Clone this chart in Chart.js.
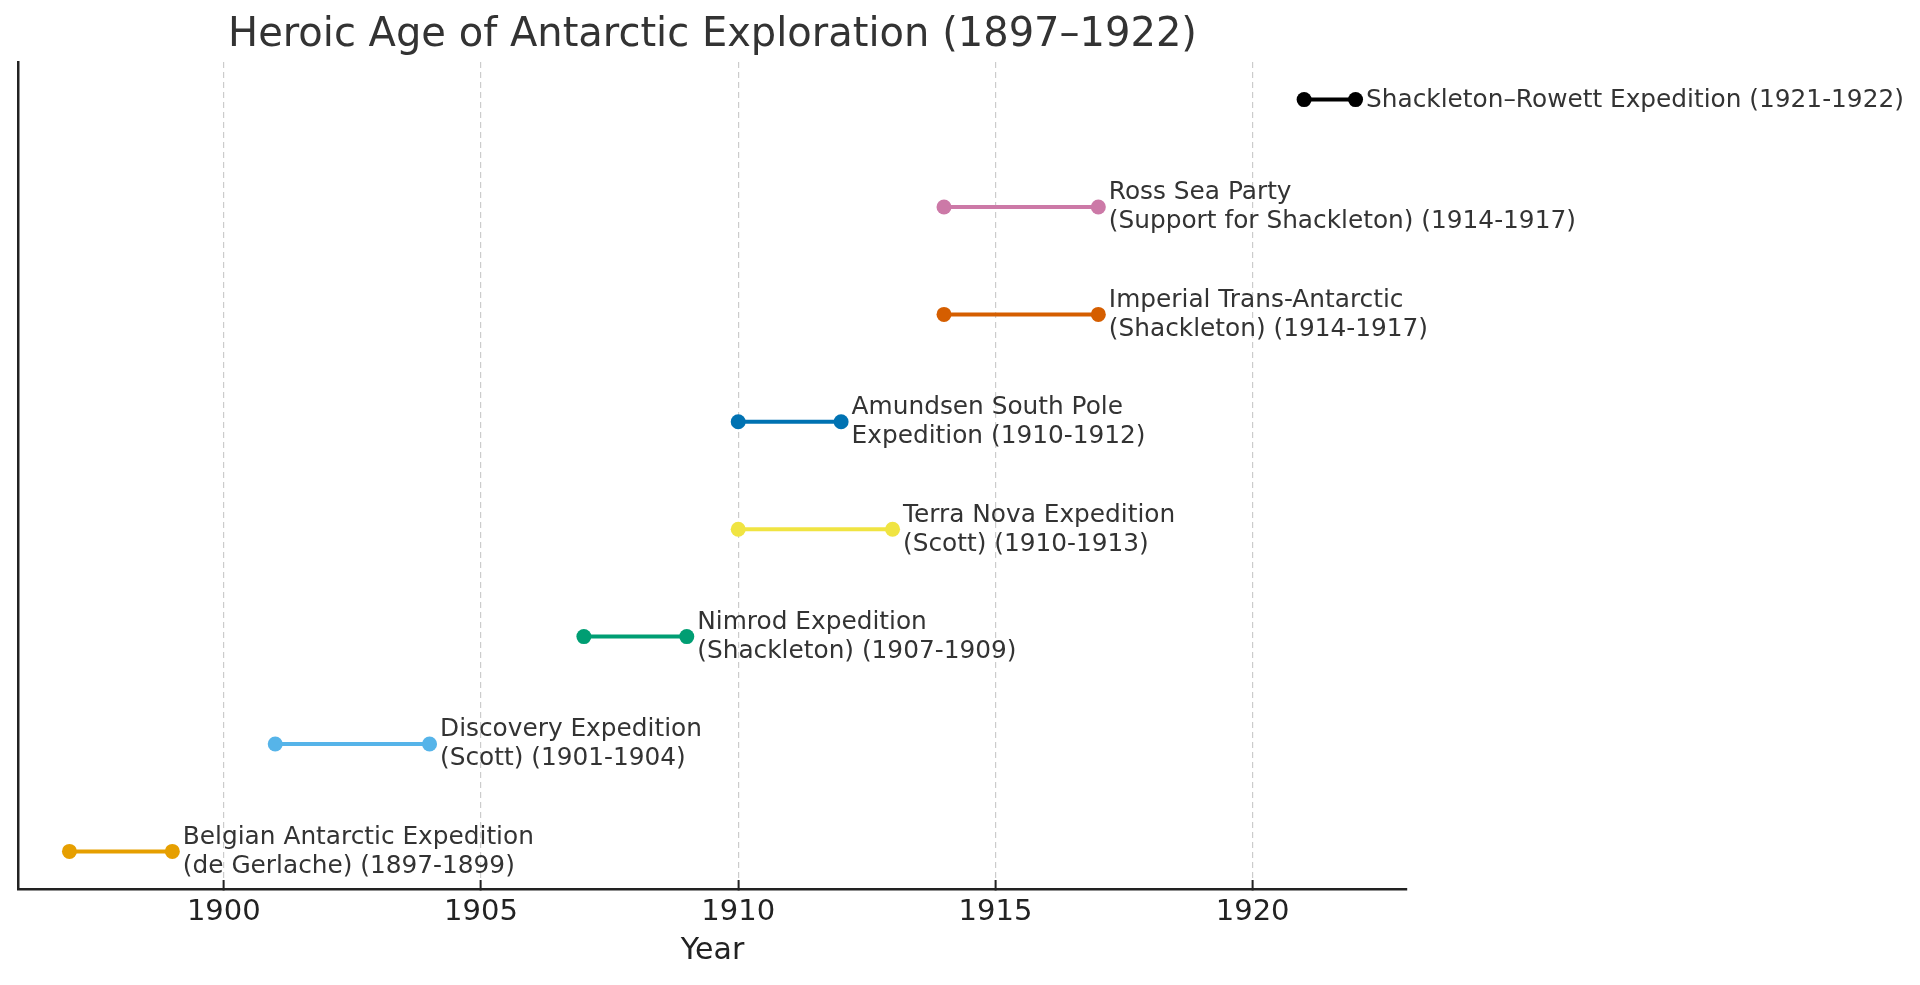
<!DOCTYPE html>
<html>
<head>
<meta charset="utf-8">
<script src="https://cdn.jsdelivr.net/npm/chart.js@4/dist/chart.umd.min.js"></script>
<style>
  html, body { margin: 0; padding: 0; background: #ffffff; }
  #wrap { width: 1920px; height: 985px; position: relative; }
</style>
</head>
<body>
<div id="wrap"><canvas id="c"></canvas></div>
<script>
// ---- data ----
const expeditionLabels = [
  ['Belgian Antarctic Expedition', '(de Gerlache) (1897-1899)'],
  ['Discovery Expedition', '(Scott) (1901-1904)'],
  ['Nimrod Expedition', '(Shackleton) (1907-1909)'],
  ['Terra Nova Expedition', '(Scott) (1910-1913)'],
  ['Amundsen South Pole', 'Expedition (1910-1912)'],
  ['Imperial Trans-Antarctic', '(Shackleton) (1914-1917)'],
  ['Ross Sea Party', '(Support for Shackleton) (1914-1917)'],
  ['Shackleton\u2013Rowett Expedition (1921-1922)']
];
const startYears = [1897, 1901, 1907, 1910, 1910, 1914, 1914, 1921];
const endYears   = [1899, 1904, 1909, 1913, 1912, 1917, 1917, 1922];
const lineColors = ['#E69F00', '#56B4E9', '#009E73', '#F0E442', '#0072B2', '#D55E00', '#CC79A7', '#000000'];
const xTickValues = [1900, 1905, 1910, 1915, 1920];
const chartTitle = 'Heroic Age of Antarctic Exploration (1897\u20131922)';
const xAxisTitle = 'Year';

const FONT = "'DejaVu Sans', 'Liberation Sans', sans-serif";

const datasets = startYears.map((s, i) => ({
  label: expeditionLabels[i].join(' '),
  data: [{ x: s, y: i }, { x: endYears[i], y: i }],
  borderColor: lineColors[i],
  backgroundColor: lineColors[i],
  pointBackgroundColor: lineColors[i],
  pointBorderWidth: 0,
  pointRadius: 7.5,
  borderWidth: 4,
  showLine: true,
  clip: false,
  fill: false,
  tension: 0
}));

const labelPlugin = {
  id: 'endLabels',
  afterDatasetsDraw(chart) {
    const ctx = chart.ctx;
    ctx.save();
    ctx.font = '24.8px ' + FONT;
    ctx.fillStyle = '#333333';
    ctx.textAlign = 'left';
    ctx.textBaseline = 'middle';
    const lh = 29;
    chart.data.datasets.forEach((ds, i) => {
      const meta = chart.getDatasetMeta(i);
      const pt = meta.data[1];
      const lines = expeditionLabels[i];
      const n = lines.length;
      lines.forEach((t, k) => {
        const y = pt.y + (k - (n - 1) / 2) * lh;
        ctx.fillText(t, pt.x + 10.5, y + 0.5);
      });
    });
    ctx.restore();
  }
};

new Chart(document.getElementById('c'), {
  type: 'scatter',
  data: { datasets },
  plugins: [labelPlugin],
  options: {
    responsive: true,
    maintainAspectRatio: false,
    animation: false,
    events: [],
    layout: { padding: { left: 18, right: 513, top: 0, bottom: 0 } },
    plugins: {
      legend: { display: false },
      tooltip: { enabled: false },
      title: {
        display: true,
        text: chartTitle,
        fullSize: false,
        color: '#333333',
        font: { family: FONT, size: 40, weight: 'normal' },
        padding: { top: 12, bottom: 2 }
      }
    },
    scales: {
      x: {
        type: 'linear',
        min: 1896,
        max: 1923,
        afterBuildTicks(scale) { scale.ticks = xTickValues.map(v => ({ value: v })); },
        afterFit(scale) { scale.height = 96; },
        ticks: {
          color: '#222222',
          font: { family: FONT, size: 29 },
          padding: 15,
          maxRotation: 0,
          callback: (v) => String(v)
        },
        grid: {
          display: true,
          color: '#cccccc',
          lineWidth: 1.2,
          drawTicks: true,
          tickLength: -9,
          tickColor: '#222222',
          tickWidth: 2
        },
        border: { display: true, color: '#222222', width: 2.5, dash: [6, 4] },
        title: {
          display: true,
          text: xAxisTitle,
          color: '#222222',
          font: { family: FONT, size: 30 },
          padding: { top: 0, bottom: 16 }
        }
      },
      y: {
        type: 'linear',
        min: -0.35,
        max: 7.35,
        afterFit(scale) { scale.width = 0; },
        ticks: { display: false },
        grid: { display: false, drawTicks: false },
        border: { display: true, color: '#222222', width: 2.5 }
      }
    }
  }
});
</script>
</body>
</html>
